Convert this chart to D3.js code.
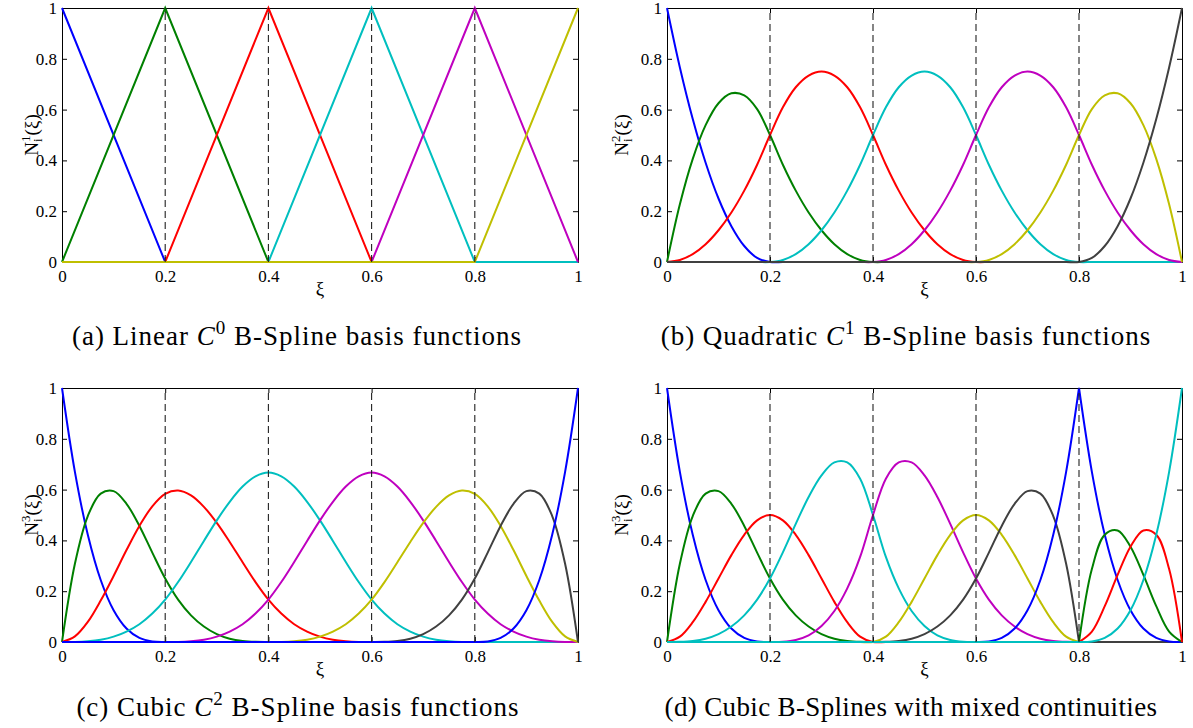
<!DOCTYPE html>
<html>
<head>
<meta charset="utf-8">
<script src="https://cdn.jsdelivr.net/npm/d3@7"></script>
<style>
body { margin: 0; background: #fff; }
svg, svg text { font-family: "Liberation Serif", "DejaVu Serif", serif; }
</style>
</head>
<body>
<svg id="fig" width="1193" height="728"></svg>
<script>
// MATLAB colour order
var couleurs = ["#0000ff", "#008000", "#ff0000", "#00bfbf", "#bf00bf", "#bfbf00", "#404040"];
var ticks = [0, 0.2, 0.4, 0.6, 0.8, 1];
var tickLabels = ["0", "0.2", "0.4", "0.6", "0.8", "1"];
var noeuds = [0.2, 0.4, 0.6, 0.8];

// (a) linear
var xsLin = [0, 0.2, 0.4, 0.6, 0.8, 1];
var lin0 = [1, 0, 0, 0, 0, 0];
var lin1 = [0, 1, 0, 0, 0, 0];
var lin2 = [0, 0, 1, 0, 0, 0];
var lin3 = [0, 0, 0, 1, 0, 0];
var lin4 = [0, 0, 0, 0, 1, 0];
var lin5 = [0, 0, 0, 0, 0, 1];

// sample positions for (b), (c), (d)
var xs = [0, 0.025, 0.05, 0.075, 0.1, 0.125, 0.15, 0.175, 0.2,
  0.225, 0.25, 0.275, 0.3, 0.325, 0.35, 0.375, 0.4,
  0.425, 0.45, 0.475, 0.5, 0.525, 0.55, 0.575, 0.6,
  0.625, 0.65, 0.675, 0.7, 0.725, 0.75, 0.775, 0.8,
  0.825, 0.85, 0.875, 0.9, 0.925, 0.95, 0.975, 1];

// (b) quadratic
var quad0 = [1, .766, .563, .391, .25, .141, .063, .016, 0,
  0, 0, 0, 0, 0, 0, 0, 0,
  0, 0, 0, 0, 0, 0, 0, 0,
  0, 0, 0, 0, 0, 0, 0, 0,
  0, 0, 0, 0, 0, 0, 0, 0];
var quad1 = [0, .227, .406, .539, .625, .664, .656, .602, .5,
  .383, .281, .195, .125, .070, .031, .008, 0,
  0, 0, 0, 0, 0, 0, 0, 0,
  0, 0, 0, 0, 0, 0, 0, 0,
  0, 0, 0, 0, 0, 0, 0, 0];
var quad2 = [0, .008, .031, .070, .125, .195, .281, .383, .5,
  .609, .688, .734, .75, .734, .688, .609, .5,
  .383, .281, .195, .125, .070, .031, .008, 0,
  0, 0, 0, 0, 0, 0, 0, 0,
  0, 0, 0, 0, 0, 0, 0, 0];
var quad3 = [0, 0, 0, 0, 0, 0, 0, 0, 0,
  .008, .031, .070, .125, .195, .281, .383, .5,
  .609, .688, .734, .75, .734, .688, .609, .5,
  .383, .281, .195, .125, .070, .031, .008, 0,
  0, 0, 0, 0, 0, 0, 0, 0];
var quad4 = [0, 0, 0, 0, 0, 0, 0, 0, 0,
  0, 0, 0, 0, 0, 0, 0, 0,
  .008, .031, .070, .125, .195, .281, .383, .5,
  .609, .688, .734, .75, .734, .688, .609, .5,
  .383, .281, .195, .125, .070, .031, .008, 0];
var quad5 = [0, 0, 0, 0, 0, 0, 0, 0, 0,
  0, 0, 0, 0, 0, 0, 0, 0,
  0, 0, 0, 0, 0, 0, 0, 0,
  .008, .031, .070, .125, .195, .281, .383, .5,
  .602, .656, .664, .625, .539, .406, .227, 0];
var quad6 = [0, 0, 0, 0, 0, 0, 0, 0, 0,
  0, 0, 0, 0, 0, 0, 0, 0,
  0, 0, 0, 0, 0, 0, 0, 0,
  0, 0, 0, 0, 0, 0, 0, 0,
  .016, .063, .141, .25, .391, .563, .766, 1];

// (c) cubic
var cub0 = [1, .670, .422, .244, .125, .053, .016, .002, 0,
  0, 0, 0, 0, 0, 0, 0, 0,
  0, 0, 0, 0, 0, 0, 0, 0,
  0, 0, 0, 0, 0, 0, 0, 0,
  0, 0, 0, 0, 0, 0, 0, 0];
var cub1 = [0, .308, .496, .584, .594, .544, .457, .352, .25,
  .167, .105, .061, .031, .013, .004, .0005, 0,
  0, 0, 0, 0, 0, 0, 0, 0,
  0, 0, 0, 0, 0, 0, 0, 0,
  0, 0, 0, 0, 0, 0, 0, 0];
var cub2 = [0, .022, .079, .163, .260, .362, .457, .534, .583,
  .596, .577, .532, .469, .394, .314, .236, .167,
  .112, .070, .041, .021, .009, .003, .0003, 0,
  0, 0, 0, 0, 0, 0, 0, 0,
  0, 0, 0, 0, 0, 0, 0, 0];
var cub3 = [0, .0003, .003, .009, .021, .041, .070, .112, .167,
  .236, .315, .398, .479, .552, .612, .652, .667,
  .652, .612, .552, .479, .398, .315, .236, .167,
  .112, .070, .041, .021, .009, .003, .0003, 0,
  0, 0, 0, 0, 0, 0, 0, 0];
var cub4 = [0, 0, 0, 0, 0, 0, 0, 0, 0,
  .0003, .003, .009, .021, .041, .070, .112, .167,
  .236, .315, .398, .479, .552, .612, .652, .667,
  .652, .612, .552, .479, .398, .315, .236, .167,
  .112, .070, .041, .021, .009, .003, .0003, 0];
var cub5 = [0, 0, 0, 0, 0, 0, 0, 0, 0,
  0, 0, 0, 0, 0, 0, 0, 0,
  .0003, .003, .009, .021, .041, .070, .112, .167,
  .236, .314, .394, .469, .532, .577, .596, .583,
  .534, .457, .362, .260, .163, .079, .022, 0];
var cub6 = [0, 0, 0, 0, 0, 0, 0, 0, 0,
  0, 0, 0, 0, 0, 0, 0, 0,
  0, 0, 0, 0, 0, 0, 0, 0,
  .0005, .004, .013, .031, .061, .105, .167, .25,
  .352, .457, .544, .594, .584, .496, .308, 0];
var cub7 = [0, 0, 0, 0, 0, 0, 0, 0, 0,
  0, 0, 0, 0, 0, 0, 0, 0,
  0, 0, 0, 0, 0, 0, 0, 0,
  0, 0, 0, 0, 0, 0, 0, 0,
  .002, .016, .053, .125, .244, .422, .670, 1];

// (d) cubic, mixed continuities
var mix0 = [1, .670, .422, .244, .125, .053, .016, .002, 0,
  0, 0, 0, 0, 0, 0, 0, 0,
  0, 0, 0, 0, 0, 0, 0, 0,
  0, 0, 0, 0, 0, 0, 0, 0,
  0, 0, 0, 0, 0, 0, 0, 0];
var mix1 = [0, .308, .496, .584, .594, .544, .457, .352, .25,
  .167, .105, .061, .031, .013, .004, .0005, 0,
  0, 0, 0, 0, 0, 0, 0, 0,
  0, 0, 0, 0, 0, 0, 0, 0,
  0, 0, 0, 0, 0, 0, 0, 0];
var mix2 = [0, .021, .078, .158, .25, .342, .422, .479, .5,
  .479, .422, .342, .25, .158, .078, .021, 0,
  0, 0, 0, 0, 0, 0, 0, 0,
  0, 0, 0, 0, 0, 0, 0, 0,
  0, 0, 0, 0, 0, 0, 0, 0];
var mix3 = [0, .0005, .004, .013, .031, .061, .105, .167, .25,
  .353, .465, .571, .656, .707, .707, .643, .5,
  .335, .211, .122, .063, .026, .008, .001, 0,
  0, 0, 0, 0, 0, 0, 0, 0,
  0, 0, 0, 0, 0, 0, 0, 0];
var mix4 = [0, 0, 0, 0, 0, 0, 0, 0, 0,
  .001, .008, .026, .063, .122, .211, .335, .5,
  .643, .707, .707, .656, .571, .465, .353, .25,
  .167, .105, .061, .031, .013, .004, .0005, 0,
  0, 0, 0, 0, 0, 0, 0, 0];
var mix5 = [0, 0, 0, 0, 0, 0, 0, 0, 0,
  0, 0, 0, 0, 0, 0, 0, 0,
  .021, .078, .158, .25, .342, .422, .479, .5,
  .479, .422, .342, .25, .158, .078, .021, 0,
  0, 0, 0, 0, 0, 0, 0, 0];
var mix6 = [0, 0, 0, 0, 0, 0, 0, 0, 0,
  0, 0, 0, 0, 0, 0, 0, 0,
  .0005, .004, .013, .031, .061, .105, .167, .25,
  .352, .457, .544, .594, .584, .496, .308, 0,
  0, 0, 0, 0, 0, 0, 0, 0];
var mix7 = [0, 0, 0, 0, 0, 0, 0, 0, 0,
  0, 0, 0, 0, 0, 0, 0, 0,
  0, 0, 0, 0, 0, 0, 0, 0,
  .002, .016, .053, .125, .244, .422, .670, 1,
  .670, .422, .244, .125, .053, .016, .002, 0];
var mix8 = [0, 0, 0, 0, 0, 0, 0, 0, 0,
  0, 0, 0, 0, 0, 0, 0, 0,
  0, 0, 0, 0, 0, 0, 0, 0,
  0, 0, 0, 0, 0, 0, 0, 0,
  .287, .422, .439, .375, .264, .141, .041, 0];
var mix9 = [0, 0, 0, 0, 0, 0, 0, 0, 0,
  0, 0, 0, 0, 0, 0, 0, 0,
  0, 0, 0, 0, 0, 0, 0, 0,
  0, 0, 0, 0, 0, 0, 0, 0,
  .041, .141, .264, .375, .439, .422, .287, 0];
var mix10 = [0, 0, 0, 0, 0, 0, 0, 0, 0,
  0, 0, 0, 0, 0, 0, 0, 0,
  0, 0, 0, 0, 0, 0, 0, 0,
  0, 0, 0, 0, 0, 0, 0, 0,
  .002, .016, .053, .125, .244, .422, .670, 1];

var captions = [
  ["(a) Linear ", "C", "0", " B-Spline basis functions"],
  ["(b) Quadratic ", "C", "1", " B-Spline basis functions"],
  ["(c) Cubic ", "C", "2", " B-Spline basis functions"],
  ["(d) Cubic B-Splines with mixed continuities"]
];
var degres = ["1", "2", "3", "3"];

var panneaux = [
  {gauche: 62, droite: 578, haut: 8, bas: 262, xs: xsLin, series: [lin0, lin1, lin2, lin3, lin4, lin5],
   lineaire: true, cassures: [], labX: 38, capX: 297, capY: 345, espace: 1},
  {gauche: 667, droite: 1182, haut: 8, bas: 262, xs: xs, series: [quad0, quad1, quad2, quad3, quad4, quad5, quad6],
   lineaire: false, cassures: [], labX: 628, capX: 906, capY: 345, espace: 1},
  {gauche: 62, droite: 578, haut: 388, bas: 642, xs: xs, series: [cub0, cub1, cub2, cub3, cub4, cub5, cub6, cub7],
   lineaire: false, cassures: [], labX: 38, capX: 298, capY: 716, espace: 1},
  {gauche: 667, droite: 1182, haut: 388, bas: 642, xs: xs,
   series: [mix0, mix1, mix2, mix3, mix4, mix5, mix6, mix7, mix8, mix9, mix10],
   lineaire: false, cassures: [0.8], labX: 628, capX: 911, capY: 716, espace: 0.35}
];

var police = "'Liberation Serif', 'DejaVu Serif', serif";
var svg = d3.select("#fig");

panneaux.forEach(function(p, n) {
    var xScale = d3.scaleLinear().domain([0, 1]).range([p.gauche, p.droite]);
    var yScale = d3.scaleLinear().domain([0, 1]).range([p.bas, p.haut]);
    var g = svg.append("g");

    var styleAxe = function(a) {
        a.attr("font-family", police).attr("font-size", 17);
        a.selectAll("path, line").attr("stroke", "#000");
        a.selectAll("text").attr("fill", "#000").style("font-family", police);
    };

    g.append("g").attr("transform", `translate(0,${p.bas})`)
        .call(d3.axisBottom(xScale).tickValues(ticks).tickFormat((d, i) => tickLabels[i])
            .tickSizeInner(-5).tickSizeOuter(0).tickPadding(8))
        .call(styleAxe);
    g.append("g").attr("transform", `translate(0,${p.haut})`)
        .call(d3.axisTop(xScale).tickValues(ticks).tickFormat(() => "").tickSizeInner(-5).tickSizeOuter(0))
        .call(styleAxe);
    g.append("g").attr("transform", `translate(${p.gauche},0)`)
        .call(d3.axisLeft(yScale).tickValues(ticks).tickFormat((d, i) => tickLabels[i])
            .tickSizeInner(-5).tickSizeOuter(0).tickPadding(5))
        .call(styleAxe);
    g.append("g").attr("transform", `translate(${p.droite},0)`)
        .call(d3.axisRight(yScale).tickValues(ticks).tickFormat(() => "").tickSizeInner(-5).tickSizeOuter(0))
        .call(styleAxe);

    var ligne = d3.line()
        .x(d => xScale(d[0]))
        .y(d => yScale(d[1]))
        .curve(p.lineaire ? d3.curveLinear : d3.curveCatmullRom);

    p.series.forEach(function(vals, i) {
        var pts = p.xs.map((x, j) => [x, vals[j]]);
        // split at C0 knots so the kink stays sharp
        var bornes = [0].concat(p.cassures, [1]);
        var d = "";
        for (var b = 0; b < bornes.length - 1; b++) {
            var seg = pts.filter(q => q[0] >= bornes[b] - 1e-9 && q[0] <= bornes[b + 1] + 1e-9);
            var s = ligne(seg);
            d += b === 0 ? s : s.replace(/^M[^A-Za-z]*/, "");
        }
        g.append("path")
            .attr("d", d)
            .attr("fill", "none")
            .attr("stroke", couleurs[i % couleurs.length])
            .attr("stroke-width", 2)
            .attr("stroke-linejoin", "miter");
    });

    g.selectAll(".noeud")
        .data(noeuds)
        .enter()
        .append("line")
        .attr("x1", d => xScale(d)).attr("x2", d => xScale(d))
        .attr("y1", yScale(0)).attr("y2", yScale(1))
        .attr("stroke", "#222")
        .attr("stroke-width", 1.1)
        .attr("stroke-dasharray", "7,4");

    // xi label
    g.append("text")
        .attr("x", (p.gauche + p.droite) / 2)
        .attr("y", p.bas + 33)
        .attr("text-anchor", "middle")
        .attr("font-size", 19)
        .style("font-family", police)
        .text("ξ");

    // y label N_i^p(xi)
    var yl = g.append("text")
        .attr("transform", `translate(${p.labX},${(p.haut + p.bas) / 2}) rotate(-90)`)
        .attr("text-anchor", "middle")
        .attr("font-size", 19)
        .style("font-family", police);
    yl.append("tspan").text("N");
    yl.append("tspan").attr("font-size", 13).attr("dy", -8).text(degres[n]);
    yl.append("tspan").attr("font-size", 13).attr("dx", -6.5).attr("dy", 12).text("i");
    yl.append("tspan").attr("dx", 3).attr("dy", -4).text("(ξ)");

    // caption
    var c = svg.append("text")
        .attr("x", p.capX)
        .attr("y", p.capY)
        .attr("text-anchor", "middle")
        .attr("font-size", 27)
        .attr("letter-spacing", p.espace)
        .style("font-family", police);
    var parts = captions[n];
    c.append("tspan").text(parts[0]);
    if (parts.length > 1) {
        c.append("tspan").attr("font-style", "italic").text(parts[1]);
        c.append("tspan").attr("font-size", 19).attr("dy", -11).text(parts[2]);
        c.append("tspan").attr("dy", 11).text(parts[3]);
    }
});
</script>
</body>
</html>
